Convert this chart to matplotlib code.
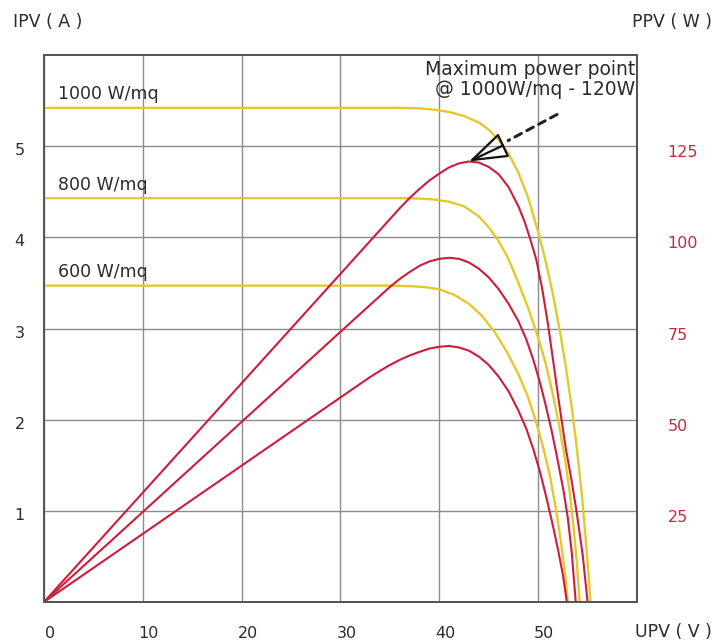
import matplotlib
matplotlib.use("Agg")
import matplotlib.pyplot as plt
import matplotlib.transforms as mtransforms
import numpy as np

# I-V curves (V, A)
v_i1000 = [0, 36, 38, 39.5, 41, 42.5, 44, 45, 46, 47, 48, 49, 50, 50.8, 51.5, 52.2, 52.8,
           53.4, 53.9, 54.4, 54.8, 55.1, 55.3]
i_1000 = [5.42, 5.42, 5.415, 5.40, 5.375, 5.33, 5.26, 5.18, 5.07, 4.92, 4.71, 4.43, 4.06,
          3.72, 3.37, 2.97, 2.58, 2.13, 1.70, 1.20, 0.70, 0.30, 0.0]

v_i800 = [0, 36, 38, 39.5, 41, 42.5, 44, 45, 46, 47, 48, 49, 50, 50.8, 51.5, 52.1, 52.7,
          53.2, 53.6, 53.9, 54.2]
i_800 = [4.43, 4.43, 4.425, 4.415, 4.39, 4.34, 4.23, 4.11, 3.96, 3.76, 3.50, 3.22, 2.90,
         2.60, 2.27, 1.95, 1.58, 1.20, 0.80, 0.45, 0.0]

v_i600 = [0, 35, 37, 38.5, 40, 41.5, 43, 44.3, 45.6, 46.8, 48, 49, 49.8, 50.5, 51.2, 51.8,
          52.3, 52.7, 53.0]
i_600 = [3.47, 3.47, 3.465, 3.455, 3.43, 3.37, 3.27, 3.14, 2.96, 2.75, 2.50, 2.24, 1.97,
         1.70, 1.38, 1.02, 0.66, 0.33, 0.0]

# P-V curves (V, W)
v_p1000 = [0, 10, 20, 30, 36, 37, 38, 39, 40, 41, 42, 43, 44, 45, 46, 47, 48, 48.6, 49.2,
           49.8, 50.4, 51.0, 51.6, 52.2, 52.8, 53.4, 53.9, 54.5, 55.0]
p_1000 = [0, 30, 60, 90, 108, 110.8, 113.3, 115.6, 117.5, 119.2, 120.3, 120.8, 120.5, 119.3,
          117.3, 113.8, 108.5, 104.5, 99.5, 94, 86, 76, 64.5, 53, 42, 33, 24.5, 13, 0]

v_p800 = [0, 10, 20, 30, 35, 36, 37, 38, 39, 40, 41, 42, 43, 44, 45, 46, 47, 48, 48.8, 49.5,
          50.2, 50.8, 51.4, 52.0, 52.6, 53.0, 53.4, 53.8]
p_800 = [0, 24.7, 49.4, 74.1, 86.4, 88.6, 90.5, 92.2, 93.4, 94.1, 94.4, 94.1, 93.1, 91.4,
         89, 85.8, 81.8, 77, 72, 66.5, 60, 53.5, 46.5, 38.5, 30, 23, 13.5, 0]

v_p600 = [0, 10, 20, 30, 33, 34, 35, 36, 37, 38, 39, 40, 41, 42, 43, 44, 45, 46, 47, 48,
          48.8, 49.5, 50.2, 50.8, 51.4, 52.0, 52.5, 52.9]
p_600 = [0, 18.7, 37.4, 56.1, 61.7, 63.4, 65.0, 66.4, 67.6, 68.6, 69.5, 70.0, 70.2, 69.8,
         68.9, 67.3, 65.0, 61.8, 57.8, 52.5, 47.5, 42, 35.5, 29, 22, 14.5, 7.5, 0]

irradiance_labels = ["1000 W/mq", "800 W/mq", "600 W/mq"]
x_ticks = [0, 10, 20, 30, 40, 50]
i_ticks = [1, 2, 3, 4, 5]
p_ticks = [25, 50, 75, 100, 125]

YELLOW = "#e4c82c"
RED = "#cc1d3a"
RED_TXT = "#c42a3e"
TXT = "#2c2c2c"
GRID = "#8c8c8c"

fig = plt.figure(figsize=(7.22, 6.44), dpi=100)
ax = fig.add_axes([0.0609, 0.0652, 0.8214, 0.8494])
ax2 = ax.twinx()

ax.set_xlim(0, 60)
ax.set_ylim(0, 6)
ax2.set_ylim(0, 150)

ax.set_xticks(x_ticks)
ax.set_yticks(i_ticks)
ax2.set_yticks(p_ticks)
ax.grid(True, color=GRID, lw=1.0)
ax.set_axisbelow(True)

ax.tick_params(axis="x", length=0, pad=17, labelsize=11.5, labelcolor=TXT)
ax.tick_params(axis="y", length=0, pad=14, labelsize=11.5, labelcolor=TXT)
ax2.tick_params(axis="y", length=0, pad=22, labelsize=11.5, labelcolor=RED_TXT)

for s in list(ax.spines.values()) + list(ax2.spines.values()):
    s.set_color("#555555")
    s.set_linewidth(1.4)

# labels in the original sit a bit off their grid lines
shift_x = mtransforms.ScaledTranslation(0.06, 0, fig.dpi_scale_trans)
for lab in ax.get_xticklabels():
    lab.set_transform(lab.get_transform() + shift_x)
shift_l = mtransforms.ScaledTranslation(0, -0.03, fig.dpi_scale_trans)
for lab in ax.get_yticklabels():
    lab.set_transform(lab.get_transform() + shift_l)
shift_r = mtransforms.ScaledTranslation(0, -0.05, fig.dpi_scale_trans)
for lab in ax2.get_yticklabels():
    lab.set_transform(lab.get_transform() + shift_r)

for vv, ii in [(v_i1000, i_1000), (v_i800, i_800), (v_i600, i_600)]:
    ax.plot(vv, ii, color=YELLOW, lw=1.7, solid_joinstyle="round")
for vv, pp in [(v_p1000, p_1000), (v_p800, p_800), (v_p600, p_600)]:
    ax2.plot(vv, pp, color=RED, lw=1.5, solid_joinstyle="round")

for lab, ii in zip(irradiance_labels, [i_1000, i_800, i_600]):
    ax.text(1.4, ii[0] + 0.05, lab, fontsize=12.5, color=TXT, va="bottom", ha="left")

# maximum power point marker
k = int(np.argmax(p_1000))
mpp = (v_p1000[k], p_1000[k])
ax2.annotate("", xy=mpp, xytext=(34, 16), textcoords="offset pixels",
             arrowprops=dict(arrowstyle="-|>,head_length=2.45,head_width=0.83",
                             mutation_scale=10, fc="none", ec="#111111", lw=1.6,
                             shrinkA=0, shrinkB=0))
ax2.annotate("", xy=mpp, xytext=(88, 47), textcoords="offset pixels",
             arrowprops=dict(arrowstyle="-", color="#222222", lw=2.2,
                             linestyle=(0, (2.4, 2.0)), shrinkA=0, shrinkB=32))
ax.text(0.997, 0.99, "Maximum power point\n@ 1000W/mq - 120W", transform=ax.transAxes,
        ha="right", va="top", multialignment="right", fontsize=13.5, color=TXT,
        linespacing=1.05)

fig.text(13 / 722, 1 - 22 / 644, "IPV ( A )", fontsize=12.5, color=TXT, ha="left", va="center")
fig.text(712 / 722, 1 - 22 / 644, "PPV ( W )", fontsize=12.5, color=TXT, ha="right", va="center")
fig.text(712 / 722, 1 - 632 / 644, "UPV ( V )", fontsize=12.5, color=TXT, ha="right", va="center")

fig.savefig("out.png", dpi=100)
